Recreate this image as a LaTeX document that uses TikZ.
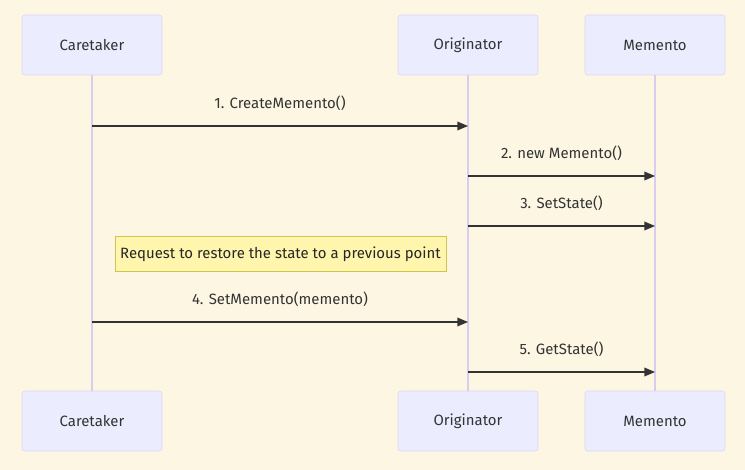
\documentclass[tikz,border=0pt]{standalone}
\usepackage{fontspec}
\setmainfont{Fira Sans}
\usetikzlibrary{arrows.meta}
\definecolor{bgcol}{HTML}{FDF6E3}
\definecolor{actorfill}{HTML}{ECECFF}
\definecolor{actorline}{HTML}{DDD5F5}
\definecolor{lifecol}{HTML}{D8CCF0}
\definecolor{notefill}{HTML}{FFF5AD}
\definecolor{noteline}{HTML}{C8C850}
\definecolor{msgcol}{HTML}{333333}
\tikzset{
  actor/.style={draw=actorline, fill=actorfill, rounded corners=2pt,
    minimum width=105pt, minimum height=45pt, font=\fontsize{11.2}{13}\selectfont, text=msgcol},
  note/.style={draw=noteline, fill=notefill, minimum height=26pt, inner xsep=4pt,
    font=\fontsize{11.2}{13}\selectfont, text=black!85},
  msg/.style={draw=msgcol, line width=1pt, -{Triangle[length=8pt,width=6.5pt]}},
  msglabel/.style={font=\fontsize{11.2}{13}\selectfont, text=msgcol}
}
\begin{document}
\begin{tikzpicture}[x=0.75pt,y=-0.75pt]
    \fill[bgcol] (0,0) rectangle (745,470);
    \useasboundingbox (0,0) rectangle (745,470);
    % participants, top and bottom
    \node[actor] (ct) at (92,45) {Caretaker};
    \node[actor] (or) at (468,45) {Originator};
    \node[actor] (me) at (655,45) {Memento};
    \node[actor] (ctb) at (92,421) {Caretaker};
    \node[actor] (orb) at (468,421) {Originator};
    \node[actor] (meb) at (655,421) {Memento};
    % lifelines
    \foreach \a/\b in {ct/ctb,or/orb,me/meb}
    \draw[lifecol, line width=0.8pt] (\a.south) -- (\b.north);
    % messages
    \draw[msg] (ct |- 0,126) -- (or |- 0,126)
      node[msglabel, midway, above=8pt] {1. CreateMemento()};
    \draw[msg] (or |- 0,176) -- (me |- 0,176)
      node[msglabel, midway, above=8pt] {2. new Memento()};
    \draw[msg] (or |- 0,226) -- (me |- 0,226)
      node[msglabel, midway, above=8pt] {3. SetState()};
    \node[note] (req) at (280.5,254) {Request to restore the state to a previous point};
    \draw[msg] (ct |- 0,322) -- (or |- 0,322)
      node[msglabel, midway, above=8pt] {4. SetMemento(memento)};
    \draw[msg] (or |- 0,372) -- (me |- 0,372)
      node[msglabel, midway, above=8pt] {5. GetState()};
  \end{tikzpicture}
\end{document}
